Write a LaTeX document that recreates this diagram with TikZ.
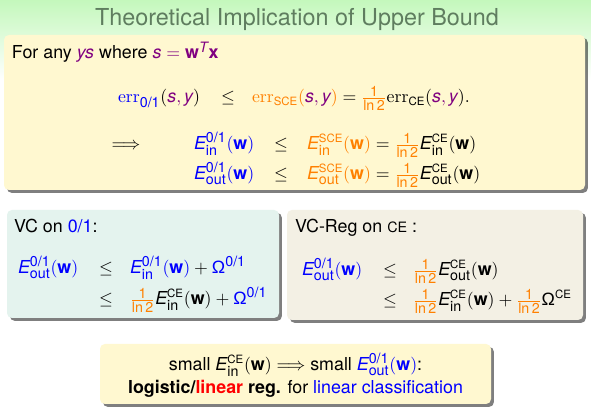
\documentclass[tikz,border=0pt,11pt]{standalone}
\usepackage{amsmath}
\usepackage[no-math]{fontspec}
\setmainfont{TeX Gyre Heros}
\setsansfont{TeX Gyre Heros}
\newfontfamily\lsans{Liberation Sans}
\usepackage{graphicx}
\usetikzlibrary{shadows}
\DeclareMathSizes{11}{11}{8.8}{6.6}
\definecolor{vblue}{RGB}{0,0,255}
\definecolor{vorange}{RGB}{255,128,0}
\definecolor{vpurple}{RGB}{128,0,128}
\definecolor{vred}{RGB}{255,0,0}
\definecolor{titlegreen}{RGB}{95,125,95}
\definecolor{bgtop}{RGB}{196,248,188}
\definecolor{boxyellow}{RGB}{255,248,208}
\definecolor{boxteal}{RGB}{228,243,238}
\definecolor{boxbeige}{RGB}{243,240,228}
\newcommand\mv[1]{\text{\itshape #1}}
\newcommand\bw{\text{\bfseries w}}
\newcommand\su[1]{\text{#1}}
\newcommand\CEs{\text{\scalebox{0.8}{CE}}}
\newcommand\SCEs{\text{\scalebox{0.8}{SCE}}}
\newcommand\Om{\text{\lsans Ω}}
\newcommand\lnt{{\color{vorange}\tfrac{\text{1}}{\text{ln\,2}}}}
\newcommand\sy{{\color{vpurple}\mv{s}, \mv{y}}}
\begin{document}
\begin{tikzpicture}[x=0.61622pt,y=-0.61622pt,
  every node/.style={inner sep=0pt,outer sep=0pt,font=\fontsize{11}{13.6}\selectfont},
  panel/.style={rounded corners=3pt,draw=none,
    drop shadow={shadow xshift=1.8pt,shadow yshift=-1.8pt,opacity=0.5,fill=black}},
  txt/.style={anchor=base west},
  rel/.style={anchor=base}]
\useasboundingbox (0,0) rectangle (591,411);
\fill[white] (0,0) rectangle (591,411);
\shade[top color=bgtop,bottom color=white] (0,0) rectangle (591,80);
\node[rel,text=titlegreen,font=\fontsize{14.4}{17}\selectfont] (title) at (297,25.5) {Theoretical Implication of Upper Bound};
% top box
\path[panel,fill=boxyellow] (4,35) rectangle (585,190);
\node[txt] (forany) at (12,59) {For any {\color{vpurple}\itshape ys} where {\color{vpurple}$\mv{s} = \bw^{\mv{T}}\text{\bfseries x}$}};
\node[txt] (r1l) at (118,103) {$\color{vblue}\mathrm{err}_{\su{0/1}}\color{black}(\sy)$};
\node[rel] (r1le) at (228,103) {$\leq$};
\node[txt] (r1r) at (252,103) {${\color{vorange}\mathrm{err}_{\SCEs}(\sy)} = \lnt\mathrm{err}_{\CEs}(\sy).$};
\node[rel] (imp) at (126,150) {$\Longrightarrow$};
\node[txt] (r2l) at (194,150) {$\color{vblue}\mv{E}^{\su{0/1}}_{\su{in}}(\bw)$};
\node[rel] (r2le) at (281,150) {$\leq$};
\node[txt] (r2r) at (307,150) {${\color{vorange}\mv{E}^{\SCEs}_{\su{in}}(\bw)} = \lnt\mv{E}^{\CEs}_{\su{in}}(\bw)$};
\node[txt] (r3l) at (194,180) {$\color{vblue}\mv{E}^{\su{0/1}}_{\su{out}}(\bw)$};
\node[rel] (r3le) at (281,180) {$\leq$};
\node[txt] (r3r) at (307,180) {${\color{vorange}\mv{E}^{\SCEs}_{\su{out}}(\bw)} = \lnt\mv{E}^{\CEs}_{\su{out}}(\bw)$};
% left box
\path[panel,fill=boxteal] (7,210) rectangle (279,318);
\node[txt] (vc) at (14,233) {VC on {\color{vblue}0/1}:};
\node[txt] (l1l) at (18,274) {$\color{vblue}\mv{E}^{\su{0/1}}_{\su{out}}(\bw)$};
\node[rel] (l1le) at (106,274) {$\leq$};
\node[txt] (l1r) at (130,274) {${\color{vblue}\mv{E}^{\su{0/1}}_{\su{in}}(\bw)} + {\color{vblue}\Om^{\su{0/1}}}$};
\node[rel] (l2le) at (106,305) {$\leq$};
\node[txt] (l2r) at (130,305) {$\lnt\mv{E}^{\CEs}_{\su{in}}(\bw) + {\color{vblue}\Om^{\su{0/1}}}$};
% right box
\path[panel,fill=boxbeige] (287,210) rectangle (583,320);
\node[txt] (vcreg) at (295,233) {VC-Reg on \scalebox{0.8}{CE} :};
\node[txt] (m1l) at (302,276) {$\color{vblue}\mv{E}^{\su{0/1}}_{\su{out}}(\bw)$};
\node[rel] (m1le) at (390,276) {$\leq$};
\node[txt] (m1r) at (413,276) {$\lnt\mv{E}^{\CEs}_{\su{out}}(\bw)$};
\node[rel] (m2le) at (390,306) {$\leq$};
\node[txt] (m2r) at (413,306) {$\lnt\mv{E}^{\CEs}_{\su{in}}(\bw) + \lnt\Om^{\CEs}$};
% bottom box
\path[panel,fill=boxyellow] (100,344) rectangle (491,404);
\node[rel] (b1) at (295.5,371) {small $\mv{E}^{\CEs}_{\su{in}}(\bw) \Longrightarrow$ small {\color{vblue}$\mv{E}^{\su{0/1}}_{\su{out}}(\bw)$}:};
\node[rel] (b2) at (295.5,394) {\textbf{logistic/{\color{vred}linear} reg.} for {\color{vblue}linear classification}};
\end{tikzpicture}
\end{document}
